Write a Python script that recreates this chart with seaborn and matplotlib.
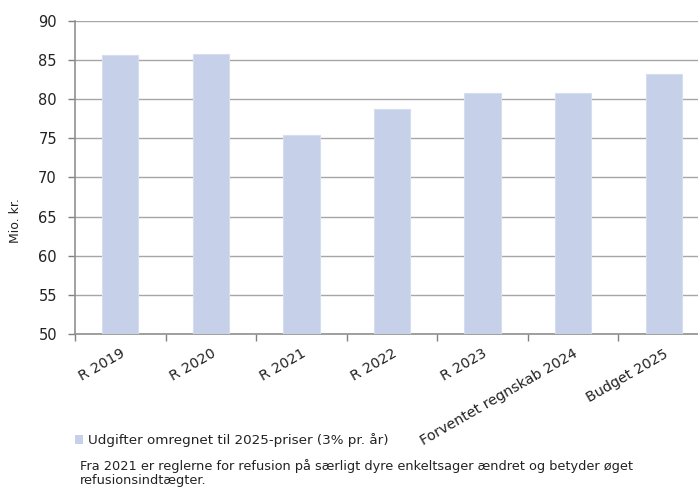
import matplotlib
matplotlib.use("Agg")
import matplotlib.pyplot as plt
import seaborn as sns
import pandas as pd
from matplotlib.patches import Patch

categories = ["R 2019", "R 2020", "R 2021", "R 2022", "R 2023",
              "Forventet regnskab 2024", "Budget 2025"]
values = [85.6, 85.8, 75.4, 78.8, 80.8, 80.8, 83.2]
series_name = "Udgifter omregnet til 2025-priser (3% pr. år)"
note = ("Fra 2021 er reglerne for refusion på særligt dyre enkeltsager ændret og betyder øget\n"
        "refusionsindtægter.")
y_label = "Mio. kr."
y_ticks = [50, 55, 60, 65, 70, 75, 80, 85, 90]

sns.set_style("white")
plt.rcParams['font.family'] = ['DejaVu Sans']

W, H = 698, 487
fig = plt.figure(figsize=(W / 100, H / 100), dpi=100)
ax = fig.add_axes([75 / W, (H - 334) / H, (709 - 75) / W, (334 - 21) / H])

df = pd.DataFrame({"cat": categories, "val": values})
bar_color = "#c6d0e8"
sns.barplot(data=df, x="cat", y="val", color=bar_color, width=0.4,
            saturation=1, ax=ax, zorder=3, edgecolor="#d6ddef", linewidth=0.8)

ax.set_ylim(50, 90)
ax.set_xlim(-0.5, len(categories) - 0.5)
ax.set_yticks(y_ticks)
ax.yaxis.grid(True, color="#a6a6a6", linewidth=1, zorder=0)
ax.set_axisbelow(True)
ax.set_xlabel("")
ax.set_ylabel(y_label, fontsize=9, color="#222222")
ax.yaxis.set_label_coords(-(75 - 22) / 634, (334 - 221) / 313)

txt_color = "#222222"
ax.tick_params(axis="y", labelsize=10.5, colors="#808080", length=5, width=1,
               direction="out", labelcolor=txt_color, pad=8, left=True)
ax.set_xticks(range(len(categories)))
ax.set_xticklabels(categories, rotation=30, ha="right", rotation_mode="anchor",
                   fontsize=10.3, color=txt_color)
ax.tick_params(axis="x", length=0, pad=9)
ax.set_xticks([i - 0.5 for i in range(len(categories) + 1)], minor=True)
ax.tick_params(axis="x", which="minor", length=5, width=1, color="#808080",
               direction="out", bottom=True)

for s in ["top", "right"]:
    ax.spines[s].set_visible(False)
for s in ["left", "bottom"]:
    ax.spines[s].set_color("#909090")
    ax.spines[s].set_linewidth(1.2)

handle = Patch(facecolor=bar_color, edgecolor="none")
fig.legend([handle], [series_name], loc="center left",
           bbox_to_anchor=(70 / W, 1 - 440 / H), frameon=False,
           fontsize=9.7, handlelength=0.6, handleheight=0.6,
           handletextpad=0.3, borderaxespad=0, labelcolor=txt_color)
fig.text(80 / W, 1 - 459 / H, note, fontsize=9.3, color=txt_color,
         va="top", ha="left", linespacing=1.12)

fig.savefig("out.png", dpi=100)
